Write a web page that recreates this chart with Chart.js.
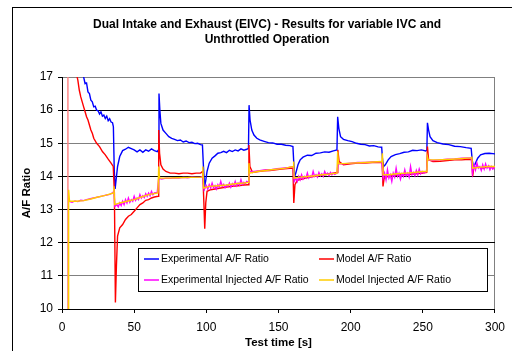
<!DOCTYPE html>
<html>
<head>
<meta charset="utf-8">
<script src="https://cdn.jsdelivr.net/npm/chart.js@4/dist/chart.umd.min.js"></script>
<style>
  html, body { margin: 0; padding: 0; background: #fff; }
  #wrap { width: 512px; height: 351px; }
</style>
</head>
<body>
<div id="wrap"><canvas id="grafico" width="512" height="351"></canvas></div>
<script>
const titulo = ['Dual Intake and Exhaust (EIVC) - Results for variable IVC and', 'Unthrottled Operation'];
const nombres = ['Experimental A/F Ratio', 'Model A/F Ratio', 'Experimental Injected A/F Ratio', 'Model Injected A/F Ratio'];
const colores = ['#0000ff', '#ff0000', '#ff00ff', '#ffcc00'];
const ticksX = [0, 50, 100, 150, 200, 250, 300];
const ticksY = [10, 11, 12, 13, 14, 15, 16, 17];

// Experimental A/F
const expT = [12, 14, 15, 16, 17, 18, 19, 20, 21, 22, 23, 24, 25, 26, 27, 28, 29, 30, 31, 32, 33, 34, 35, 35.6, 36.2, 36.8, 37.5, 38.5, 40, 42, 44, 46, 48, 50, 52, 54, 56, 58, 60, 62, 64, 66, 66.8,
  67.2, 67.8, 68.5, 70, 72, 74, 76, 78, 80, 82, 84, 86, 88, 90, 92, 94, 96, 97.3, 98, 98.8, 99.5, 100.5, 102, 104, 106, 108, 110, 112, 114, 116, 118, 120, 122, 124, 126, 128, 129.2,
  129.6, 130.3, 131.5, 133, 135, 137, 140, 143, 146, 149, 152, 155, 158, 160, 160.6, 161.2, 162, 163.5, 165, 167, 170, 173, 176, 179, 182, 185, 188, 190.5,
  191, 191.8, 193, 195, 198, 201, 204, 207, 210, 213, 216, 219, 221.5, 222, 222.8, 224, 226, 228, 231, 234, 237, 240, 243, 246, 249, 252, 252.8,
  253.2, 254, 255, 257, 260, 264, 268, 272, 276, 280, 283.5, 284.2, 285, 286, 288, 290, 293, 296, 300];
const expV = [17.6, 17.15, 17.0, 16.8, 16.82, 16.55, 16.5, 16.3, 16.25, 16.1, 16.12, 16.0, 15.98, 15.88, 15.95, 15.82, 15.85, 15.75, 15.82, 15.68, 15.74, 15.64, 15.62, 15.5, 14.2, 13.62, 13.9, 14.3, 14.6, 14.78, 14.82, 14.88, 14.84, 14.8, 14.74, 14.8, 14.73, 14.8, 14.76, 14.83, 14.78, 14.75, 14.8,
  16.5, 16.0, 15.6, 15.4, 15.3, 15.2, 15.15, 15.12, 15.08, 15.1, 15.04, 15.07, 15.02, 15.03, 14.99, 15.0, 14.96, 14.95, 14.3, 13.7, 13.85, 14.15, 14.4, 14.55, 14.62, 14.7, 14.72, 14.76, 14.72, 14.79, 14.75, 14.8, 14.77, 14.83, 14.79, 14.82, 14.85,
  16.15, 15.7, 15.4, 15.25, 15.15, 15.1, 15.06, 15.02, 15.01, 14.97, 14.97, 14.94, 14.93, 14.9, 14.4, 14.0, 14.1, 14.35, 14.5, 14.58, 14.64, 14.63, 14.7, 14.71, 14.74, 14.73, 14.77, 14.8,
  15.8, 15.45, 15.2, 15.12, 15.08, 15.05, 15.0, 14.97, 14.96, 14.92, 14.93, 14.89, 14.88, 14.55, 14.3, 14.35, 14.5, 14.6, 14.66, 14.69, 14.73, 14.74, 14.79, 14.78, 14.8, 14.77, 14.8,
  15.62, 15.4, 15.2, 15.08, 15.02, 14.98, 14.96, 14.91, 14.9, 14.87, 14.85, 14.5, 14.3, 14.35, 14.55, 14.65, 14.69, 14.7, 14.68];

// Model A/F
const modT = [3.9, 4.1, 9, 10, 11, 12, 13, 14, 15, 16, 17, 18, 19, 20, 21, 22, 24, 26, 28, 30, 32, 34, 35.5, 36.3, 37, 37.7, 38.5, 40, 42, 44, 46, 48, 50, 52, 54, 56, 58, 60, 62, 64, 66.6,
  67, 67.6, 68.5, 70, 72, 75, 78, 81, 84, 87, 90, 93, 96, 97.5, 98.3, 98.9, 99.6, 100.5, 103, 106, 110, 114, 118, 122, 126, 129,
  129.5, 130.2, 132, 136, 140, 144, 148, 152, 156, 160, 160.6, 161.4, 163, 167, 171, 175, 179, 183, 187, 190.6,
  191.1, 192, 195, 200, 205, 210, 215, 220, 221.8, 222.4, 223.2, 226, 230, 235, 240, 245, 250, 252.7,
  253.2, 254, 257, 262, 267, 272, 277, 282, 284, 284.5, 285.3, 288, 292, 296, 300];
const modV = [9.5, 18, 17.6, 17.1, 16.9, 16.6, 16.4, 16.25, 16.1, 15.95, 15.8, 15.7, 15.55, 15.4, 15.3, 15.15, 15.0, 14.9, 14.75, 14.65, 14.52, 14.4, 14.3, 13.5, 10.2, 11.3, 12.2, 12.45, 12.55, 12.7, 12.8, 12.85, 12.95, 13.05, 13.15, 13.2, 13.28, 13.3, 13.35, 13.38, 13.4,
  15.4, 14.7, 14.35, 14.22, 14.15, 14.1, 14.1, 14.08, 14.1, 14.1, 14.08, 14.1, 14.1, 14.15, 13.2, 12.42, 13.2, 13.55, 13.6, 13.62, 13.65, 13.68, 13.7, 13.72, 13.74, 13.75,
  14.95, 14.3, 14.12, 14.15, 14.17, 14.18, 14.2, 14.22, 14.24, 14.25, 13.2, 13.75, 13.88, 13.93, 13.97, 14.0, 14.03, 14.06, 14.09, 14.12,
  14.8, 14.45, 14.35, 14.38, 14.4, 14.4, 14.42, 14.42, 14.42, 13.7, 13.95, 14.0, 14.03, 14.05, 14.06, 14.08, 14.1, 14.12,
  14.9, 14.5, 14.45, 14.46, 14.48, 14.5, 14.5, 14.52, 14.5, 14.0, 14.25, 14.28, 14.25, 14.3, 14.28];

// Experimental Injected A/F
const injT = [5, 7, 9, 11, 13, 15, 17, 19, 21, 23, 25, 27, 29, 31, 33, 35, 36, 36.6, 38, 39, 40, 41, 42, 43, 44, 45, 46, 47, 48, 49, 50, 51, 52, 53, 54, 55, 56, 57, 58, 59, 60, 61, 62, 63, 64, 66,
  67, 69, 72, 75, 78, 81, 84, 87, 90, 93, 96, 97.5, 98.5, 100, 101, 102, 103, 104, 105, 106, 107, 108, 109, 110, 111, 112, 113, 114, 115, 116, 117, 118, 119, 120, 121, 122, 123, 124, 125, 126, 127, 128, 129.3,
  129.8, 133, 137, 141, 145, 149, 153, 157, 160.2, 160.9, 162, 163, 164, 165, 166, 167, 168, 169, 170, 171, 172, 173, 174, 175, 176, 177, 178, 179, 180, 181, 182, 183, 184, 185, 186, 187, 188, 189, 190.5,
  191.2, 195, 200, 205, 210, 215, 221.6, 222.5, 223.5, 224.5, 225.5, 226.5, 227.5, 228.5, 229.5, 230.5, 231.5, 232.5, 233.5, 234.5, 235.5, 236.5, 237.5, 238.5, 239.5, 240.5, 241.5, 242.5, 243.5, 244.5, 245.5, 246.5, 247.5, 248.5, 249.5, 250.5, 252.5,
  253.3, 257, 262, 267, 272, 277, 283.5, 284.4, 285.5, 286.5, 287.5, 288.5, 289.5, 290.5, 291.5, 292.5, 293.5, 294.5, 295.5, 296.5, 297.5, 298.5, 300];
const injV = [13.25, 13.22, 13.26, 13.24, 13.28, 13.27, 13.3, 13.32, 13.34, 13.36, 13.38, 13.4, 13.42, 13.44, 13.46, 13.5, 13.55, 13.1, 13.15, 13.08, 13.2, 13.12, 13.25, 13.15, 13.3, 13.2, 13.35, 13.22, 13.3, 13.25, 13.4, 13.28, 13.35, 13.3, 13.45, 13.35, 13.42, 13.36, 13.48, 13.4, 13.5, 13.42, 13.55, 13.45, 13.5, 13.52,
  13.95, 13.92, 13.95, 13.94, 13.96, 13.95, 13.97, 13.96, 13.98, 13.97, 13.98, 14.0, 13.6, 13.72, 13.62, 13.75, 13.65, 13.8, 13.66, 13.72, 13.62, 13.75, 13.68, 13.85, 13.7, 13.76, 13.66, 13.74, 13.7, 13.8, 13.68, 13.78, 13.72, 13.85, 13.72, 13.8, 13.74, 13.9, 13.76, 13.82, 13.78, 13.85, 13.82,
  14.15, 14.15, 14.17, 14.2, 14.2, 14.23, 14.25, 14.27, 14.3, 13.85, 13.95, 13.85, 14.0, 13.9, 14.05, 13.92, 14.0, 13.95, 14.1, 13.95, 14.02, 13.98, 14.15, 14.0, 14.05, 13.98, 14.12, 14.02, 14.08, 14.0, 14.15, 14.05, 14.1, 14.02, 14.12, 14.05, 14.1, 14.06, 14.1,
  14.38, 14.38, 14.4, 14.42, 14.42, 14.44, 14.45, 13.95, 14.1, 13.9, 14.2, 13.95, 14.05, 13.85, 14.1, 13.98, 14.25, 14.0, 14.1, 13.92, 14.08, 14.0, 14.2, 14.02, 14.1, 13.98, 14.3, 14.05, 14.12, 14.02, 14.18, 14.05, 14.22, 14.08, 14.15, 14.1, 14.15,
  14.5, 14.48, 14.5, 14.52, 14.53, 14.55, 14.56, 14.1, 14.35, 14.2, 14.4, 14.25, 14.3, 14.18, 14.35, 14.22, 14.38, 14.25, 14.32, 14.2, 14.3, 14.22, 14.28];

// Model Injected A/F
const minT = [4.2, 4.4, 4.8, 5.2, 10, 15, 20, 25, 30, 35.5, 36, 36.5, 40, 45, 50, 55, 60, 66.5, 67, 67.6, 72, 80, 90, 97.3, 97.6, 98.2, 102, 108, 114, 120, 126, 129.2,
  129.5, 130, 135, 145, 155, 160.2, 160.5, 160.9, 165, 170, 175, 180, 185, 190.5, 191, 191.6, 200, 210, 221.6, 222, 222.5, 226, 232, 238, 244, 250, 252.8,
  253.2, 253.8, 260, 270, 283.6, 284, 284.5, 290, 295, 300];
const minV = [9.5, 13.6, 13.6, 13.25, 13.25, 13.27, 13.32, 13.38, 13.43, 13.5, 13.7, 13.15, 13.2, 13.25, 13.3, 13.38, 13.45, 13.5, 14.3, 13.95, 13.95, 13.96, 13.97, 13.98, 14.3, 13.65, 13.7, 13.72, 13.74, 13.78, 13.8, 13.82,
  14.4, 14.1, 14.15, 14.2, 14.25, 14.3, 14.45, 13.95, 13.98, 14.0, 14.02, 14.05, 14.07, 14.1, 14.75, 14.38, 14.4, 14.42, 14.45, 14.7, 14.05, 14.05, 14.08, 14.1, 14.12, 14.15, 14.15,
  14.6, 14.5, 14.5, 14.52, 14.56, 14.6, 14.25, 14.28, 14.3, 14.3];

const series = [[expT, expV], [modT, modV], [injT, injV], [minT, minV]];
const fuente = 'Liberation Sans, Arial, sans-serif';

// titulo, marco exterior y leyenda dentro del area
const marco = {
  id: 'marco',
  afterDraw(chart) {
    const c = chart.ctx;
    c.save();
    c.strokeStyle = '#000';
    c.lineWidth = 1;
    c.strokeRect(12.5, 7.5, 520, 360);

    c.fillStyle = '#000';
    c.font = 'bold 12px ' + fuente;
    c.textAlign = 'center';
    c.textBaseline = 'middle';
    titulo.forEach((t, i) => c.fillText(t, 267, 25 + i * 15));

    // leyenda
    const bx = 138.5, by = 248.5, bw = 349, bh = 43;
    c.fillStyle = '#fff';
    c.fillRect(bx, by, bw, bh);
    c.strokeRect(bx, by, bw, bh);
    c.font = '10.5px ' + fuente;
    c.textAlign = 'left';
    const pos = [[144, 259], [319, 259], [144, 280], [319, 280]];
    nombres.forEach((n, i) => {
      const [x, y] = pos[i];
      c.strokeStyle = colores[i];
      c.lineWidth = 1.5;
      c.beginPath();
      c.moveTo(x, y);
      c.lineTo(x + 15, y);
      c.stroke();
      c.fillStyle = '#000';
      c.fillText(n, x + 17, y + 0.5);
    });
    c.restore();
  }
};

new Chart(document.getElementById('grafico').getContext('2d'), {
  type: 'line',
  data: {
    datasets: series.map((s, i) => ({
      label: nombres[i],
      data: s[0].map((t, j) => ({ x: t, y: s[1][j] })),
      borderColor: colores[i],
      backgroundColor: colores[i],
      borderWidth: 1.4,
      pointRadius: 0,
      tension: 0,
      order: 3 - i,
      segment: i === 1 ? { borderColor: ctx => (ctx.p0DataIndex === 0 ? '#ff8080' : undefined) } : {}
    }))
  },
  options: {
    responsive: false,
    animation: false,
    layout: { padding: { left: 0, right: 16, top: 77, bottom: 0 } },
    plugins: {
      legend: { display: false },
      tooltip: { enabled: false },
      title: { display: false }
    },
    scales: {
      x: {
        type: 'linear',
        min: 0,
        max: 300,
        afterFit: s => { s.height = 42; },
        afterBuildTicks: s => { s.ticks = ticksX.map(v => ({ value: v })); },
        ticks: { color: '#000', font: { family: fuente, size: 12 }, padding: 7, maxRotation: 0 },
        grid: {
          color: ctx => (ctx.tick && ctx.tick.value === 300 ? '#808080' : 'rgba(0,0,0,0)'),
          tickColor: '#000',
          tickLength: 4
        },
        border: { color: '#000' },
        title: { display: true, text: 'Test time [s]', color: '#000', font: { family: fuente, size: 11.5, weight: 'bold' }, padding: { top: 0, bottom: 1 } }
      },
      y: {
        min: 10,
        max: 17,
        afterFit: s => { s.width = 62; },
        afterBuildTicks: s => { s.ticks = ticksY.map(v => ({ value: v })); },
        ticks: { color: '#000', font: { family: fuente, size: 12 }, padding: 5 },
        grid: {
          color: ctx => (ctx.tick && [17, 15, 11].includes(ctx.tick.value) ? '#808080' : '#000'),
          tickColor: '#000',
          tickLength: 4
        },
        border: { color: '#000' },
        title: { display: true, text: 'A/F Ratio', color: '#000', font: { family: fuente, size: 11.5, weight: 'bold' }, padding: { top: 20, bottom: 0 } }
      }
    }
  },
  plugins: [marco]
});
</script>
</body>
</html>
